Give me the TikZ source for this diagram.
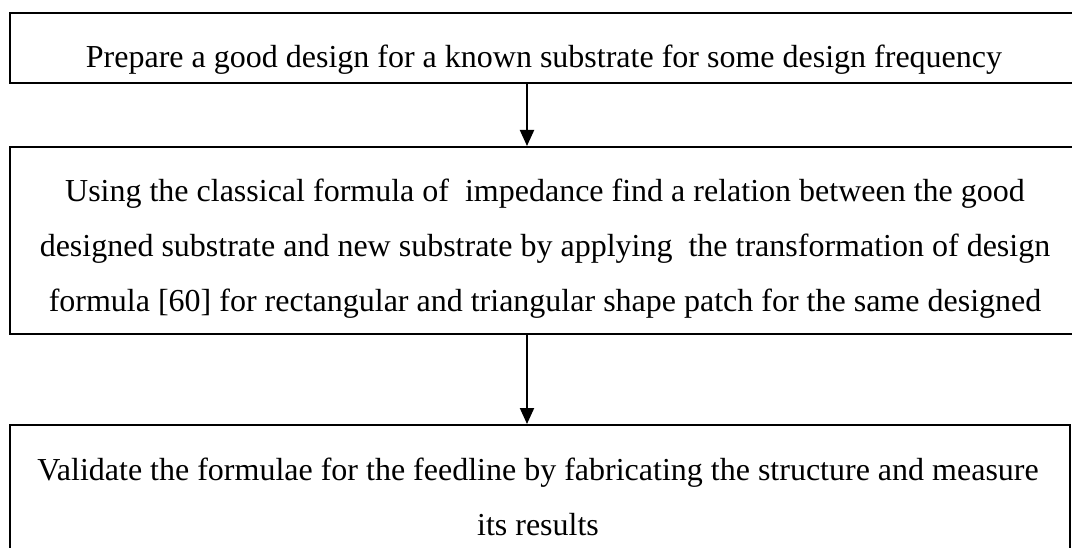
\documentclass[tikz,border=0pt]{standalone}
\usepackage{fontspec}
\setmainfont{Liberation Serif}
\usetikzlibrary{arrows.meta}
\begin{document}
\begin{tikzpicture}[x=1pt,y=1pt,
  stepbox/.style={draw, line width=2pt, rectangle, inner sep=0pt, anchor=north west},
  steptext/.style={font=\fontsize{32}{55}\selectfont, align=center, inner sep=0pt, anchor=base},
  flow/.style={line width=2pt, -{Triangle[width=14pt,length=16pt]}}]
\useasboundingbox (0,0) rectangle (1072,-548);
% boxes
\node[stepbox, minimum width=1080pt, minimum height=70pt] (b1) at (9,-12) {};
\node[stepbox, minimum width=1080pt, minimum height=187pt] (b2) at (9,-146) {};
\node[stepbox, minimum width=1060pt, minimum height=140pt] (b3) at (9,-424) {};
% texts (base anchor = baseline of the last line)
\node[steptext] (t1) at (544,-68) {Prepare a good design for a known substrate for some design frequency};
\node[steptext] (t2) at (545,-312) {Using the classical formula of\ \ impedance find a relation between the good\\
designed substrate and new substrate by applying\ \ the transformation of design\\
formula [60] for rectangular and triangular shape patch for the same designed};
\node[steptext] (t3) at (538,-535) {Validate the formulae for the feedline by fabricating the structure and measure\\
its results};
% connectors
\coordinate (ax) at (527,0);
\draw[flow] (b1.south -| ax) -- (b2.north -| ax);
\draw[flow] (b2.south -| ax) -- (b3.north -| ax);
\end{tikzpicture}
\end{document}
